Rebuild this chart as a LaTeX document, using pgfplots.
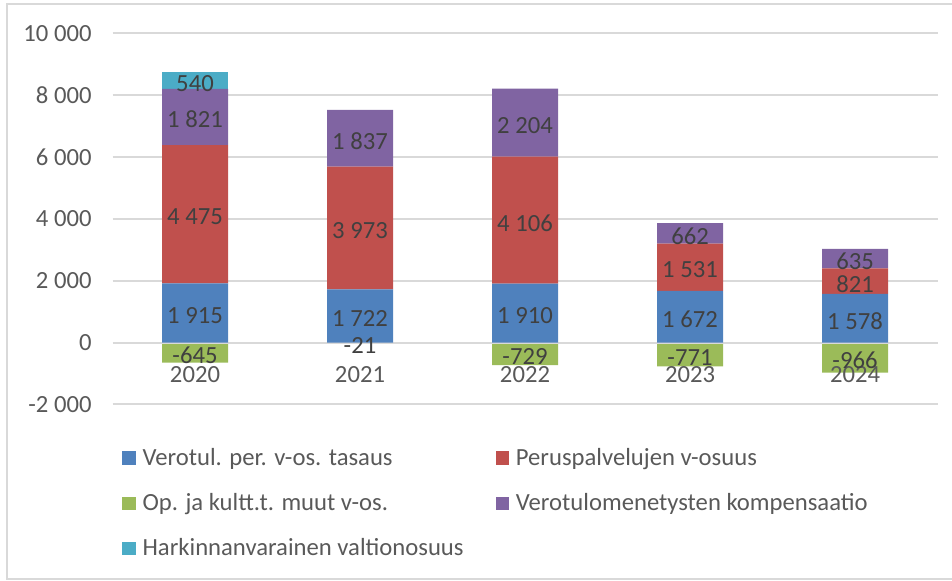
\documentclass[border=0pt]{standalone}
\usepackage{pgfplots}
\pgfplotsset{compat=1.18}
\usepackage{fontspec}
\setmainfont{Carlito}

\definecolor{serA}{HTML}{4F81BD}
\definecolor{serB}{HTML}{C0504D}
\definecolor{serC}{HTML}{9BBB59}
\definecolor{serD}{HTML}{8064A2}
\definecolor{serE}{HTML}{4BACC6}
\definecolor{gridc}{HTML}{D9D9D9}
\definecolor{tickc}{HTML}{595959}
\definecolor{lblc}{HTML}{404040}

\newcommand{\chartfont}{\fontsize{18.5}{22}\selectfont}

\pgfplotsset{
  base/.style={
    width=618.75pt, height=278.25pt, scale only axis,
    at={(84.375pt,132.375pt)}, anchor=south west,
    xmin=-0.5, xmax=4.5, ymin=-2000, ymax=10000,
    enlargelimits=false,
  },
  sqlegend/.style={legend image code/.code={\fill[##1] (0pt,-5pt) rectangle (10pt,5pt);}},
}

\begin{document}
\begin{tikzpicture}
\useasboundingbox (0,0) rectangle (714pt,435.75pt);
\draw[gridc, line width=1pt] (5.25pt,1.5pt) rectangle (720pt,432.75pt);

% negative part (own baseline at zero)
\begin{axis}[base, hide axis, ybar, bar width=49.5pt]
\addplot[fill=serC, draw=none] coordinates {(0,-645) (1,-21) (2,-729) (3,-771) (4,-966)};
\end{axis}

% positive stack
\begin{axis}[base, ybar stacked, bar width=49.5pt,
  ymajorgrids, grid style={gridc, line width=1.5pt},
  axis line style={draw=none}, major tick length=0pt,
  scaled y ticks=false,
  ytick={-2000,0,2000,4000,6000,8000,10000},
  yticklabels={-2 000,0,2 000,4 000,6 000,8 000,10 000},
  xtick={0,1,2,3,4}, xticklabels={2020,2021,2022,2023,2024},
  ticklabel style={font=\chartfont, text=tickc},
  yticklabel style={inner sep=0pt, anchor=east, xshift=-15.5pt},
  xticklabel style={inner sep=0pt, anchor=north, yshift=28.5pt},
  legend columns=2, legend cell align=left,
  legend style={draw=none, fill=none, at={(0.0115,-0.118)}, anchor=north west,
    inner sep=0pt, column sep=0pt, row sep=19.5pt, font=\chartfont, text=tickc,
    nodes={inner sep=0pt},
    /tikz/every odd column/.append style={column sep=5.25pt}},
]
\addplot[fill=serA, draw=none, sqlegend] coordinates {(0,1915) (1,1722) (2,1910) (3,1672) (4,1578)};
\addlegendentry{\makebox[264.75pt][l]{Verotul. per. v-os. tasaus}}
\addplot[fill=serB, draw=none, sqlegend] coordinates {(0,4475) (1,3973) (2,4106) (3,1531) (4,821)};
\addlegendentry{Peruspalvelujen v-osuus}
\addlegendimage{fill=serC, draw=none, sqlegend}
\addlegendentry{\makebox[264.75pt][l]{Op. ja kultt.t. muut v-os.}}
\addplot[fill=serD, draw=none, sqlegend] coordinates {(0,1821) (1,1837) (2,2204) (3,662) (4,635)};
\addlegendentry{Verotulomenetysten kompensaatio}
\addplot[fill=serE, draw=none, sqlegend] coordinates {(0,540) (1,0) (2,0) (3,0) (4,0)};
\addlegendentry{\makebox[264.75pt][l]{Harkinnanvarainen valtionosuus}}
\end{axis}

% value labels, centred in each segment
\begin{axis}[base, hide axis,
  nodes near coords style={anchor=center, inner sep=0pt, yshift=-2pt, font=\chartfont, text=lblc}]
\addplot[only marks, mark=none, nodes near coords, point meta=explicit symbolic] coordinates {
  (0,957.5) [1 915] (1,861) [1 722] (2,955) [1 910] (3,836) [1 672] (4,789) [1 578]
  (0,4152.5) [4 475] (1,3708.5) [3 973] (2,3963) [4 106] (3,2437.5) [1 531] (4,1988.5) [821]
  (0,7300.5) [1 821] (1,6613.5) [1 837] (2,7118) [2 204] (3,3534) [662] (4,2716.5) [635]
  (0,8481) [540]
  (0,-322.5) [-645] (1,-10.5) [-21] (2,-364.5) [-729] (3,-385.5) [-771] (4,-483) [-966]
};
\end{axis}
\end{tikzpicture}
\end{document}
